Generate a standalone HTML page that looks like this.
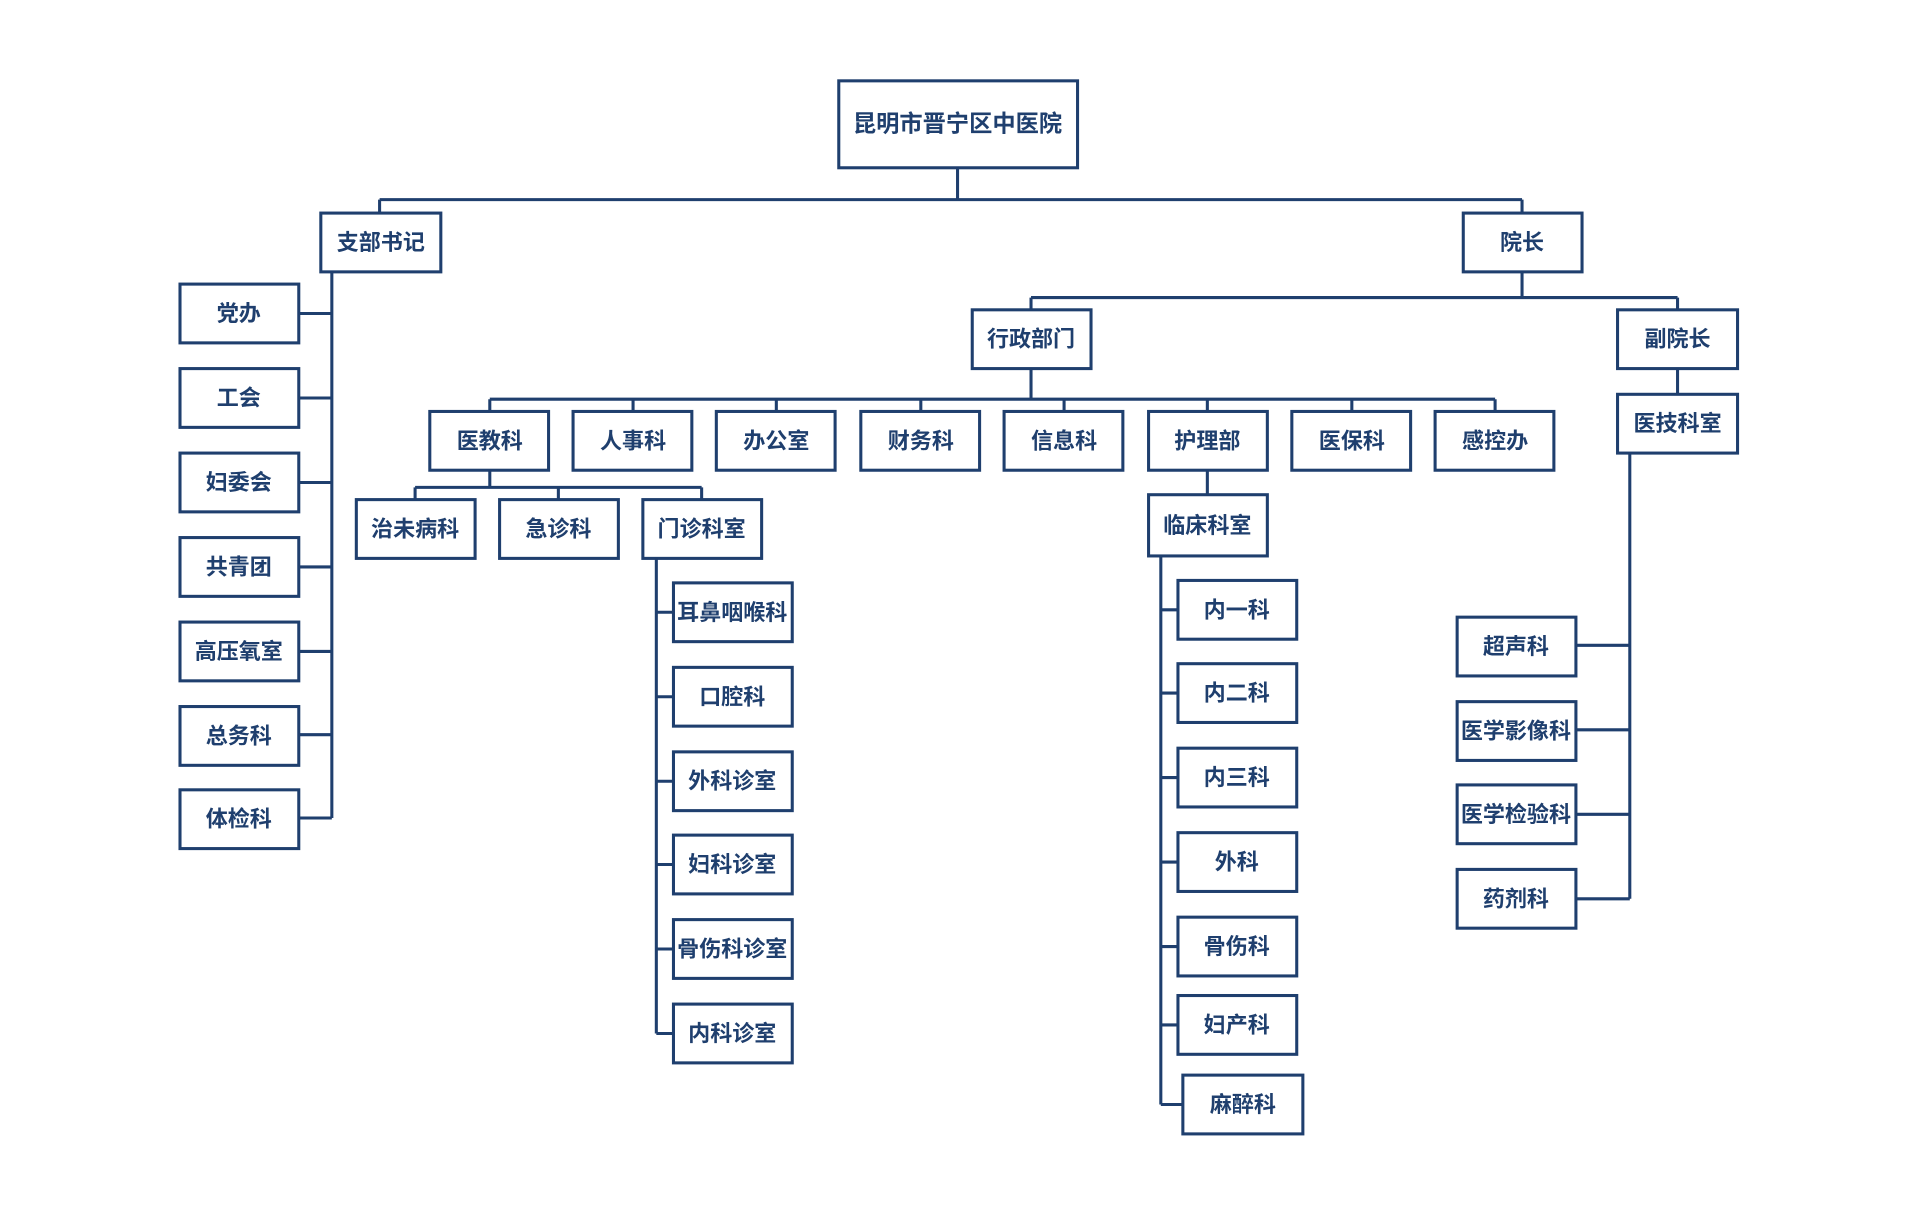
<!DOCTYPE html>
<html><head><meta charset="utf-8"><style>
html,body{margin:0;padding:0;background:#fff;}
svg{display:block}
text{font-family:"Liberation Sans","Noto Sans CJK SC",sans-serif;font-weight:bold;fill:#1f3f6e;text-anchor:middle;dominant-baseline:central;}
</style></head><body>
<svg width="1920" height="1226" viewBox="0 0 1568 1001.2" xmlns="http://www.w3.org/2000/svg">
<g fill="none" stroke="#1f3f6e" stroke-width="2.5">
<rect x="685" y="66" width="195" height="71"/>
<path d="M782 137V163M310 163H1243M310 163V174M1243 163V174"/>
<rect x="262" y="174" width="98" height="48"/>
<rect x="1195" y="174" width="97" height="48"/>
<path d="M271 222V668M244 256H271M244 325H271M244 394H271M244 463H271M244 532H271M244 600H271M244 668H271"/>
<rect x="147" y="232" width="97" height="48"/><rect x="147" y="301" width="97" height="48"/><rect x="147" y="370" width="97" height="48"/><rect x="147" y="439" width="97" height="48"/><rect x="147" y="508" width="97" height="48"/><rect x="147" y="577" width="97" height="48"/><rect x="147" y="645" width="97" height="48"/>
<path d="M1243 222V243M842 243H1370M842 243V253M1370 243V253"/>
<rect x="794" y="253" width="97" height="48"/>
<rect x="1321" y="253" width="98" height="48"/>
<path d="M1370 301V322"/>
<rect x="1321" y="322" width="98" height="48"/>
<path d="M1331 370V734M1287 527H1331M1287 596H1331M1287 665H1331M1287 734H1331"/>
<rect x="1190" y="504" width="97" height="48"/><rect x="1190" y="573" width="97" height="48"/><rect x="1190" y="641" width="97" height="48"/><rect x="1190" y="710" width="97" height="48"/>
<path d="M842 301V326M400 326H1221M400 326V336M517 326V336M634 326V336M752 326V336M869 326V336M986 326V336M1104 326V336M1221 326V336"/>
<rect x="351" y="336" width="97" height="48"/><rect x="468" y="336" width="97" height="48"/><rect x="585" y="336" width="97" height="48"/><rect x="703" y="336" width="97" height="48"/><rect x="820" y="336" width="97" height="48"/><rect x="938" y="336" width="97" height="48"/><rect x="1055" y="336" width="97" height="48"/><rect x="1172" y="336" width="97" height="48"/>
<path d="M400 384V398M339 398H573M339 398V408M456 398V408M573 398V408"/>
<rect x="291" y="408" width="97" height="48"/><rect x="408" y="408" width="97" height="48"/><rect x="525" y="408" width="97" height="48"/>
<path d="M536 456V844M536 500H550M536 569H550M536 638H550M536 706H550M536 775H550M536 844H550"/>
<rect x="550" y="476" width="97" height="48"/><rect x="550" y="545" width="97" height="48"/><rect x="550" y="614" width="97" height="48"/><rect x="550" y="682" width="97" height="48"/><rect x="550" y="751" width="97" height="48"/><rect x="550" y="820" width="97" height="48"/>
<path d="M986 384V404"/>
<rect x="938" y="404" width="97" height="50"/>
<path d="M948 454V902M948 498H962M948 566H962M948 635H962M948 704H962M948 773H962M948 837H962M948 902H966"/>
<rect x="962" y="474" width="97" height="48"/><rect x="962" y="542" width="97" height="48"/><rect x="962" y="611" width="97" height="48"/><rect x="962" y="680" width="97" height="48"/><rect x="962" y="749" width="97" height="48"/><rect x="962" y="813" width="97" height="48"/><rect x="966" y="878" width="98" height="48"/>
</g>
<g font-size="18">
<text x="782" y="101" font-size="19">昆明市晋宁区中医院</text>
<text x="311" y="198">支部书记</text>
<text x="1243" y="198">院长</text>
<text x="195" y="256">党办</text><text x="195" y="325">工会</text><text x="195" y="394">妇委会</text><text x="195" y="463">共青团</text><text x="195" y="532">高压氧室</text><text x="195" y="601">总务科</text><text x="195" y="669">体检科</text>
<text x="842" y="277">行政部门</text><text x="1370" y="277">副院长</text><text x="1370" y="346">医技科室</text>
<text x="1238" y="528">超声科</text><text x="1238" y="597">医学影像科</text><text x="1238" y="665">医学检验科</text><text x="1238" y="734">药剂科</text>
<text x="400" y="360">医教科</text><text x="517" y="360">人事科</text><text x="634" y="360">办公室</text><text x="752" y="360">财务科</text><text x="869" y="360">信息科</text><text x="986" y="360">护理部</text><text x="1104" y="360">医保科</text><text x="1221" y="360">感控办</text>
<text x="339" y="432">治未病科</text><text x="456" y="432">急诊科</text><text x="573" y="432">门诊科室</text>
<text x="598" y="500">耳鼻咽喉科</text><text x="598" y="569">口腔科</text><text x="598" y="638">外科诊室</text><text x="598" y="706">妇科诊室</text><text x="598" y="775">骨伤科诊室</text><text x="598" y="844">内科诊室</text>
<text x="986" y="429">临床科室</text>
<text x="1010" y="498">内一科</text><text x="1010" y="566">内二科</text><text x="1010" y="635">内三科</text><text x="1010" y="704">外科</text><text x="1010" y="773">骨伤科</text><text x="1010" y="837">妇产科</text><text x="1015" y="902">麻醉科</text>
</g>
</svg>
</body></html>
